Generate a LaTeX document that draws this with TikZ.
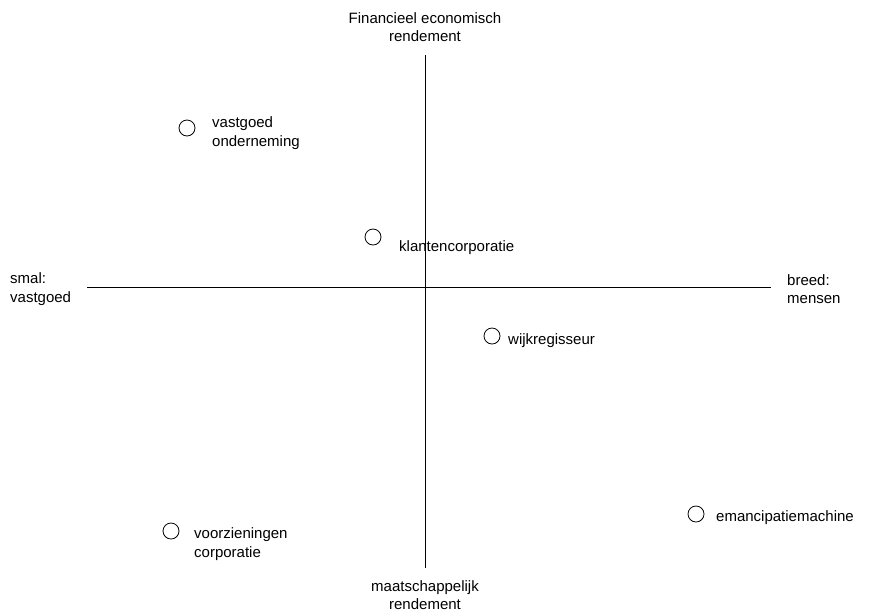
\documentclass[tikz,border=0pt]{standalone}
\usepackage{fontspec}
\setmainfont{Liberation Sans}
\begin{document}
\begin{tikzpicture}[x=1pt, y=-1pt,
  every node/.style={font=\fontsize{15}{18.5}\selectfont},
  spot/.style={draw, circle, thick, minimum size=16pt, inner sep=0pt},
  txt/.style={anchor=west, align=left, inner sep=0pt}]
  \useasboundingbox (0, 0) rectangle (869, 614);
  % axes
  \coordinate (top) at (425, 55);
  \coordinate (bottom) at (425, 568);
  \coordinate (left) at (87, 287);
  \coordinate (right) at (771, 287);
  \draw (top) -- (bottom);
  \draw (left) -- (right);
  \node[align=center, inner sep=0pt] (finance) at (425, 27) {Financieel economisch\\rendement};
  \node[align=center, inner sep=0pt] (society) at (425, 595) {maatschappelijk\\rendement};
  \node[txt] (narrow) at (10, 289) {smal:\\vastgoed};
  \node[txt] (broad) at (787, 289) {breed:\\mensen};
  % positions
  \node[spot] (c1) at (187, 128) {};
  \node[txt] (t1) at (212, 133) {vastgoed\\onderneming};
  \node[spot] (c2) at (373, 237) {};
  \node[txt] (t2) at (399, 248) {klantencorporatie};
  \node[spot] (c3) at (492, 336) {};
  \node[txt] (t3) at (508, 341) {wijkregisseur};
  \node[spot] (c4) at (171, 531) {};
  \node[txt] (t4) at (194, 544) {voorzieningen\\corporatie};
  \node[spot] (c5) at (696, 514) {};
  \node[txt] (t5) at (716, 518) {emancipatiemachine};
\end{tikzpicture}
\end{document}
